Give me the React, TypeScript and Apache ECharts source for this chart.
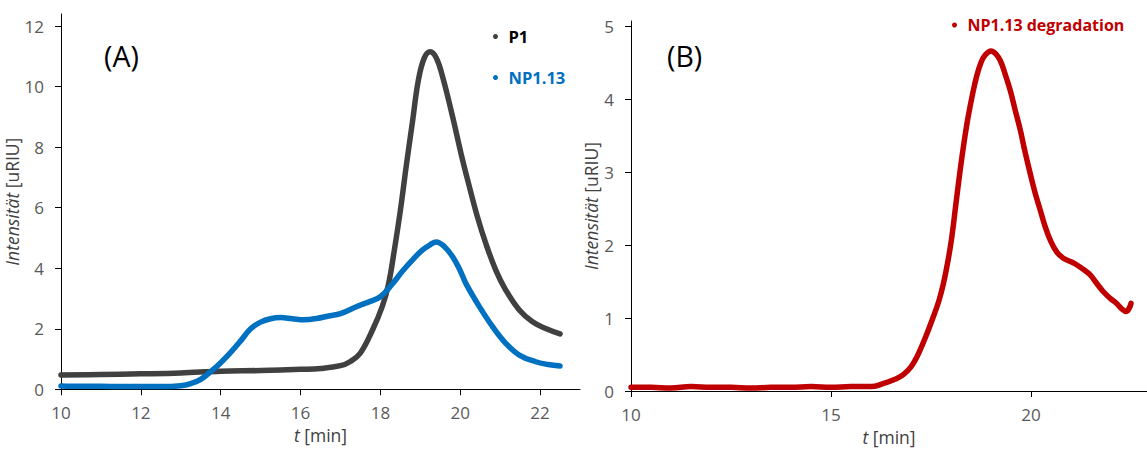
import React, { useEffect, useRef } from "react";
import * as echarts from "echarts";

// ---- data ----
const p1T = [10.0, 11.0, 12.0, 13.0, 14.0, 15.0, 16.0, 16.5, 17.0, 17.25, 17.5, 17.8, 18.05, 18.2, 18.35, 18.5, 18.65, 18.8, 18.95, 19.1, 19.25, 19.4, 19.56, 19.81, 20.02, 20.23, 20.43, 20.64, 20.89, 21.14, 21.48, 21.81, 22.14, 22.5];
const p1V = [0.47, 0.49, 0.51, 0.54, 0.6, 0.62, 0.66, 0.69, 0.78, 0.92, 1.2, 1.95, 2.75, 3.45, 4.6, 5.9, 7.4, 8.8, 10.2, 10.95, 11.15, 10.95, 10.32, 9.0, 7.79, 6.69, 5.7, 4.82, 3.94, 3.28, 2.62, 2.23, 2.01, 1.83];

const npT = [10.0, 10.5, 11.0, 11.5, 12.0, 12.5, 13.0, 13.25, 13.5, 13.8, 14.0, 14.25, 14.5, 14.75, 15.0, 15.25, 15.5, 15.8, 16.1, 16.4, 16.7, 17.0, 17.4, 17.7, 18.0, 18.3, 18.55, 18.8, 19.05, 19.25, 19.4, 19.6, 19.81, 20.0, 20.14, 20.48, 20.81, 21.14, 21.48, 21.89, 22.2, 22.5];
const npV = [0.11, 0.1, 0.1, 0.09, 0.09, 0.09, 0.12, 0.19, 0.33, 0.64, 0.88, 1.22, 1.6, 2.0, 2.22, 2.33, 2.37, 2.33, 2.3, 2.34, 2.42, 2.5, 2.73, 2.88, 3.06, 3.48, 3.9, 4.27, 4.6, 4.78, 4.87, 4.72, 4.38, 3.92, 3.5, 2.73, 2.07, 1.52, 1.13, 0.91, 0.82, 0.77];

const degT = [10.0, 10.5, 11.0, 11.5, 12.0, 12.5, 13.0, 13.5, 14.0, 14.5, 15.0, 15.5, 16.0, 16.3, 16.6, 16.8, 17.0, 17.15, 17.35, 17.56, 17.7, 17.81, 17.92, 18.02, 18.12, 18.23, 18.33, 18.43, 18.54, 18.64, 18.75, 18.85, 19.0, 19.12, 19.23, 19.35, 19.48, 19.6, 19.73, 19.85, 19.98, 20.1, 20.23, 20.35, 20.48, 20.65, 20.81, 21.0, 21.14, 21.3, 21.48, 21.65, 21.81, 21.98, 22.14, 22.28, 22.38, 22.45, 22.5];
const degV = [0.05, 0.05, 0.04, 0.06, 0.05, 0.05, 0.04, 0.05, 0.05, 0.06, 0.05, 0.06, 0.06, 0.1, 0.16, 0.22, 0.33, 0.47, 0.72, 1.02, 1.24, 1.47, 1.77, 2.11, 2.55, 3.03, 3.42, 3.76, 4.07, 4.31, 4.5, 4.6, 4.66, 4.62, 4.53, 4.35, 4.12, 3.86, 3.58, 3.28, 2.98, 2.72, 2.48, 2.26, 2.07, 1.9, 1.82, 1.77, 1.73, 1.67, 1.59, 1.47, 1.36, 1.27, 1.2, 1.12, 1.09, 1.13, 1.2];

const xTicksA = [10, 12, 14, 16, 18, 20, 22];
const yTicksA = [0, 2, 4, 6, 8, 10, 12];
const xTicksB = [10, 15, 20];
const yTicksB = [0, 1, 2, 3, 4, 5];

const seriesNames = ["P1", "NP1.13", "NP1.13 degradation"];

const GREY = "#404040";
const BLUE = "#0070C0";
const RED = "#C00000";
const FONT = "'Open Sans', 'Noto Sans', sans-serif";

const zip = (t: number[], v: number[]) => t.map((x, i) => [x, v[i]]);

export default function App() {
  const ref = useRef<HTMLDivElement>(null);

  useEffect(() => {
    if (!ref.current) return;
    const chart = echarts.init(ref.current, undefined, { renderer: "svg" });

    const axisLine = { show: true, lineStyle: { color: "#000", width: 1 } };
    const axisLabelBase = { color: "#595959", fontSize: 17, fontFamily: FONT };
    const nameStyle = (fs: number) => ({
      color: "#404040",
      fontSize: fs,
      fontFamily: FONT,
      rich: {
        i: { fontStyle: "italic", fontSize: fs, fontFamily: FONT, color: "#404040" },
        n: { fontSize: fs, fontFamily: FONT, color: "#404040" },
      },
    });

    const mkX = (gridIndex: number, max: number, ticks: number[], name: string) => ({
      type: "value",
      gridIndex,
      min: 10,
      max,
      axisLine,
      splitLine: { show: false },
      axisTick: { show: true, inside: false, length: 6, customValues: ticks, lineStyle: { color: "#000" } },
      axisLabel: { ...axisLabelBase, margin: 15, customValues: ticks },
      name,
      nameLocation: "middle",
      nameGap: 36,
      nameTextStyle: nameStyle(17.5),
    });
    const mkY = (gridIndex: number, max: number, ticks: number[]) => ({
      type: "value",
      gridIndex,
      min: 0,
      max,
      axisLine,
      splitLine: { show: false },
      axisTick: { show: true, inside: false, length: 6, customValues: ticks, lineStyle: { color: "#000" } },
      axisLabel: { ...axisLabelBase, margin: 17, customValues: ticks },
      name: "{i|Intensität} {n|[uRIU]}",
      nameLocation: "middle",
      nameGap: 29,
      nameTextStyle: nameStyle(17.5),
    });

    const lineBase = {
      type: "line",
      showSymbol: false,
      symbol: "none",
      smooth: 0.4,
      animation: false,
    };

    chart.setOption({
      animation: false,
      grid: [
        { left: 61, top: 14, width: 519, height: 375.3, containLabel: false, outerBoundsMode: "none" },
        { left: 631, top: 21, width: 516, height: 370, containLabel: false, outerBoundsMode: "none" },
      ],
      xAxis: [mkX(0, 23, xTicksA, "{i|t} {n|[min]}"), mkX(1, 22.9, xTicksB, "{i|t} {n|[min]}")],
      yAxis: [mkY(0, 12.4, yTicksA), mkY(1, 5.07, yTicksB)],
      legend: [
        {
          data: [
            { name: seriesNames[0], textStyle: { color: "#000" } },
            { name: seriesNames[1], textStyle: { color: BLUE } },
          ],
          orient: "vertical",
          left: 488,
          top: 23,
          icon: "circle",
          itemWidth: 16,
          itemHeight: 5,
          itemGap: 24,
          textStyle: { fontWeight: "bold", fontSize: 16.5, fontFamily: FONT },
        },
        {
          data: [{ name: seriesNames[2], textStyle: { color: RED } }],
          left: 947,
          top: 12,
          icon: "circle",
          itemWidth: 16,
          itemHeight: 5,
          textStyle: { fontWeight: "bold", fontSize: 16, fontFamily: FONT },
        },
      ],
      graphic: [
        {
          type: "text",
          left: 104,
          top: 41,
          style: { text: "(A)", fontSize: 28.5, fontFamily: FONT, fill: "#000" },
        },
        {
          type: "text",
          left: 667,
          top: 41,
          style: { text: "(B)", fontSize: 28.5, fontFamily: FONT, fill: "#000" },
        },
      ],
      series: [
        {
          ...lineBase,
          name: seriesNames[0],
          xAxisIndex: 0,
          yAxisIndex: 0,
          data: zip(p1T, p1V),
          color: GREY,
          lineStyle: { color: GREY, width: 5.5, cap: "round", join: "round" },
        },
        {
          ...lineBase,
          name: seriesNames[1],
          xAxisIndex: 0,
          yAxisIndex: 0,
          data: zip(npT, npV),
          color: BLUE,
          lineStyle: { color: BLUE, width: 5.5, cap: "round", join: "round" },
        },
        {
          ...lineBase,
          name: seriesNames[2],
          xAxisIndex: 1,
          yAxisIndex: 1,
          data: zip(degT, degV),
          color: RED,
          lineStyle: { color: RED, width: 5.5, cap: "round", join: "round" },
        },
      ],
    });

    return () => chart.dispose();
  }, []);

  return (
    <div
      ref={ref}
      style={{ position: "fixed", left: 0, top: 0, width: 1147, height: 450, background: "#fff" }}
    />
  );
}
